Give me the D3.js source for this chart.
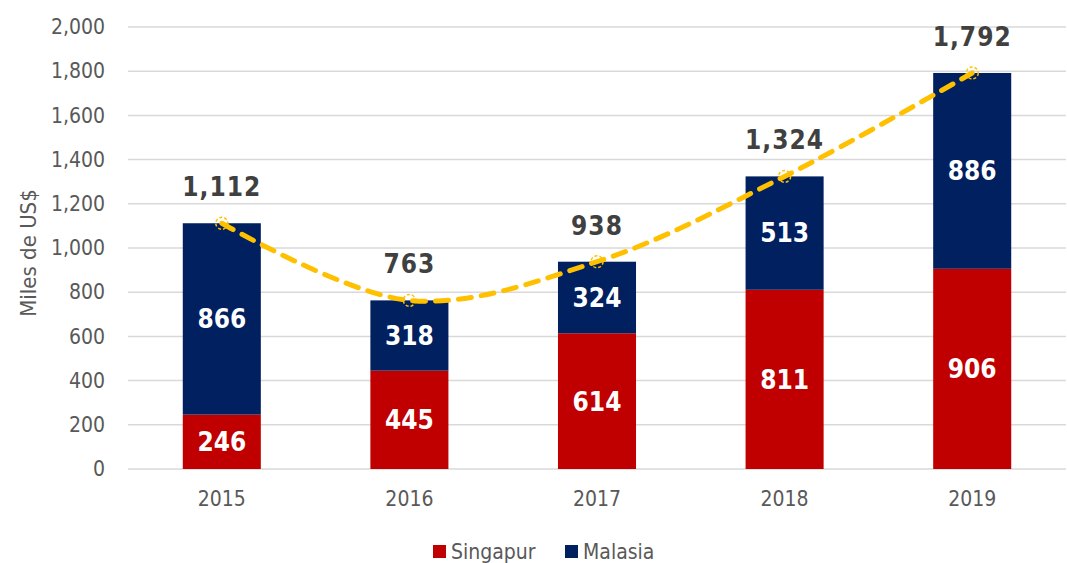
<!DOCTYPE html>
<html>
<head>
<meta charset="utf-8">
<script src="https://cdn.jsdelivr.net/npm/d3@7"></script>
<style>
  body { margin: 0; background: #fff; }
  svg { font-family: "DejaVu Sans Condensed", "DejaVu Sans", sans-serif; }
  .grid line { stroke: #d9d9d9; stroke-width: 1.5; }
  .tick text { fill: #595959; }
</style>
</head>
<body>
<script>
//chart data
var years = ["2015", "2016", "2017", "2018", "2019"];
var singapur = [246, 445, 614, 811, 906];
var malasia = [866, 318, 324, 513, 886];
var totals = [1112, 763, 938, 1324, 1792];
var yTicks = [0, 200, 400, 600, 800, 1000, 1200, 1400, 1600, 1800, 2000];

window.onload = drawChart();

function drawChart(){
    var width = 1067,
        height = 563;

    var svg = d3.select("body")
        .append("svg")
        .attr("width", width)
        .attr("height", height);

    //plot area
    var x = d3.scaleBand()
        .domain(years)
        .range([128, 1066])
        .paddingInner(0.584)
        .paddingOuter(0.292);

    var y = d3.scaleLinear()
        .domain([0, 2000])
        .range([469, 27]);

    var fmt = d3.format(",");

    //gridlines
    svg.append("g")
        .attr("class", "grid")
        .selectAll("line")
        .data(yTicks)
        .enter()
        .append("line")
        .attr("x1", 128)
        .attr("x2", 1066)
        .attr("y1", function(d){ return y(d); })
        .attr("y2", function(d){ return y(d); });

    //y axis labels
    var yAxis = svg.append("g")
        .attr("transform", "translate(105,0)")
        .call(d3.axisLeft(y).tickValues(yTicks).tickFormat(fmt).tickSize(0).tickPadding(0));
    yAxis.select(".domain").remove();
    yAxis.attr("font-size", null).attr("font-family", null);
    yAxis.selectAll("text").attr("font-size", 21);

    //x axis labels
    var xAxis = svg.append("g")
        .attr("transform", "translate(0,483)")
        .call(d3.axisBottom(x).tickSize(0).tickPadding(8));
    xAxis.select(".domain").remove();
    xAxis.attr("font-size", null).attr("font-family", null);
    xAxis.selectAll("text").attr("font-size", 21);

    //axis title
    svg.append("text")
        .attr("transform", "translate(28,253) rotate(-90)")
        .attr("text-anchor", "middle")
        .attr("dy", "0.36em")
        .attr("font-size", 22)
        .attr("fill", "#595959")
        .text("Miles de US$");

    //stacked bars
    var rows = years.map(function(d, i){
        return {year: d, s: singapur[i], m: malasia[i], t: totals[i]};
    });

    svg.selectAll(".barS")
        .data(rows)
        .enter()
        .append("rect")
        .attr("class", "barS")
        .attr("x", function(d){ return x(d.year); })
        .attr("width", x.bandwidth())
        .attr("y", function(d){ return y(d.s); })
        .attr("height", function(d){ return y(0) - y(d.s); })
        .attr("fill", "#C00000");

    svg.selectAll(".barM")
        .data(rows)
        .enter()
        .append("rect")
        .attr("class", "barM")
        .attr("x", function(d){ return x(d.year); })
        .attr("width", x.bandwidth())
        .attr("y", function(d){ return y(d.s + d.m); })
        .attr("height", function(d){ return y(d.s) - y(d.s + d.m); })
        .attr("fill", "#002060");

    //value labels inside the bars
    svg.selectAll(".lblS")
        .data(rows)
        .enter()
        .append("text")
        .attr("x", function(d){ return x(d.year) + x.bandwidth() / 2; })
        .attr("y", function(d){ return y(d.s / 2); })
        .attr("dy", "0.36em")
        .attr("text-anchor", "middle")
        .attr("font-size", 26)
        .attr("font-weight", "bold")
        .attr("fill", "#fff")
        .text(function(d){ return fmt(d.s); });

    svg.selectAll(".lblM")
        .data(rows)
        .enter()
        .append("text")
        .attr("x", function(d){ return x(d.year) + x.bandwidth() / 2; })
        .attr("y", function(d){ return y(d.s + d.m / 2); })
        .attr("dy", "0.36em")
        .attr("text-anchor", "middle")
        .attr("font-size", 26)
        .attr("font-weight", "bold")
        .attr("fill", "#fff")
        .text(function(d){ return fmt(d.m); });

    //total line
    var line = d3.line()
        .x(function(d){ return x(d.year) + x.bandwidth() / 2; })
        .y(function(d){ return y(d.t); })
        .curve(d3.curveCatmullRom.alpha(0.5));

    svg.append("path")
        .datum(rows)
        .attr("d", line)
        .attr("fill", "none")
        .attr("stroke", "#FFC000")
        .attr("stroke-width", 5)
        .attr("stroke-linecap", "round")
        .attr("stroke-dasharray", "13,10");

    svg.selectAll(".dot")
        .data(rows)
        .enter()
        .append("circle")
        .attr("cx", function(d){ return x(d.year) + x.bandwidth() / 2; })
        .attr("cy", function(d){ return y(d.t); })
        .attr("r", 6)
        .attr("fill", "none")
        .attr("stroke", "#FFC000")
        .attr("stroke-width", 1.5)
        .attr("stroke-dasharray", "3,2");

    //total labels
    svg.selectAll(".lblT")
        .data(rows)
        .enter()
        .append("text")
        .attr("x", function(d){ return x(d.year) + x.bandwidth() / 2; })
        .attr("y", function(d){ return y(d.t) - 27; })
        .attr("text-anchor", "middle")
        .attr("font-size", 26)
        .attr("font-weight", "bold")
        .attr("letter-spacing", 1)
        .attr("fill", "#404040")
        .text(function(d){ return fmt(d.t); });

    //legend
    var legend = [{name: "Singapur", color: "#C00000", x: 433}, {name: "Malasia", color: "#002060", x: 565}];
    var lg = svg.selectAll(".legend")
        .data(legend)
        .enter()
        .append("g")
        .attr("transform", function(d){ return "translate(" + d.x + ",545)"; });
    lg.append("rect")
        .attr("width", 13)
        .attr("height", 13)
        .attr("fill", function(d){ return d.color; });
    lg.append("text")
        .attr("x", 18)
        .attr("y", 14)
        .attr("font-size", 21)
        .attr("fill", "#595959")
        .text(function(d){ return d.name; });
}
</script>
</body>
</html>
